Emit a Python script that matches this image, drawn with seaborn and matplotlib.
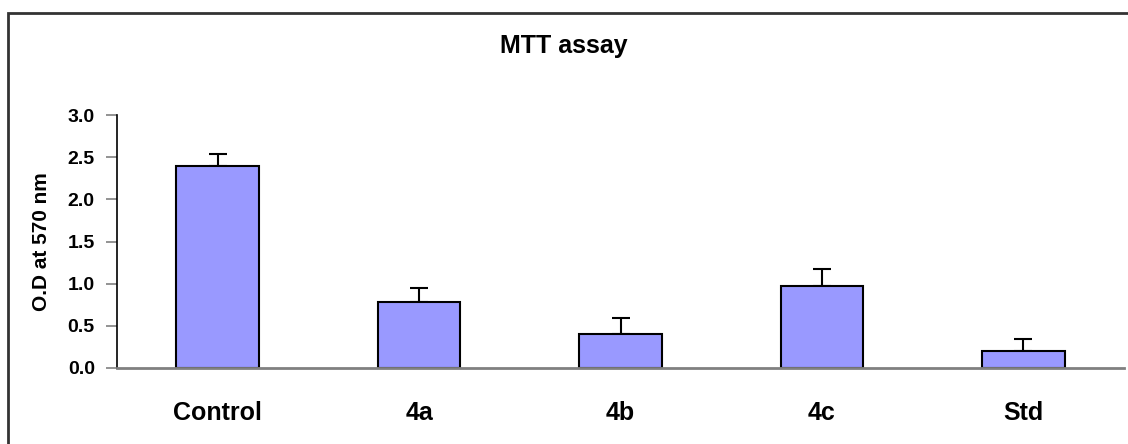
import numpy as np
import pandas as pd
import seaborn as sns
import matplotlib.pyplot as plt
from matplotlib.patches import Rectangle

groups = ["Control", "4a", "4b", "4c", "Std"]
od_mean = [2.40, 0.78, 0.40, 0.97, 0.20]
od_err = [0.14, 0.17, 0.19, 0.20, 0.14]

df = pd.DataFrame({"group": groups, "od": od_mean})

sns.set_style("white")
plt.rcParams['font.family'] = ['Liberation Sans', 'DejaVu Sans']
plt.rcParams['text.color'] = 'black'
plt.rcParams['axes.labelcolor'] = 'black'

fig = plt.figure(figsize=(11.28, 4.44), dpi=100)
ax = fig.add_axes([117 / 1128, 1 - 368 / 444, (1124 - 117) / 1128, (368 - 115) / 444])

sns.barplot(data=df, x="group", y="od", order=groups, color="#9999FF",
            edgecolor="black", linewidth=1.5, width=0.41, saturation=1,
            errorbar=None, ax=ax, zorder=2)
ax.errorbar(np.arange(len(groups)), od_mean, yerr=[np.zeros(len(groups)), od_err],
            fmt="none", ecolor="black", elinewidth=1.5, capsize=6.5, capthick=1.5, zorder=1)

ax.set_xlim(-0.5, 4.5)
ax.set_ylim(0, 3.0)
ax.set_yticks(np.arange(0, 3.01, 0.5))
ax.set_yticklabels([f"{v:.1f}" for v in np.arange(0, 3.01, 0.5)], fontsize=14, fontweight="bold")
ax.set_xticks(range(len(groups)))
ax.set_xticklabels(groups, fontsize=18, fontweight="bold")
ax.set_xticks(np.arange(-0.5, 4.6, 1.0), minor=True)
ax.tick_params(axis="x", which="major", length=0, pad=24, labelcolor="black")
ax.tick_params(axis="x", which="minor", length=8, width=1.2, color="#808080", direction="out")
ax.tick_params(axis="y", length=8, width=1.2, color="#808080", direction="out", pad=8, left=True,
               labelcolor="black")

for s in ["top", "right"]:
    ax.spines[s].set_visible(False)
ax.spines["left"].set_color("black")
ax.spines["left"].set_linewidth(1.2)
ax.spines["bottom"].set_color("#808080")
ax.spines["bottom"].set_linewidth(2)

ax.set_xlabel("")
ax.set_ylabel("O.D at 570 nm", fontsize=15, fontweight="bold", labelpad=12, color="black")
fig.text(0.5, 1 - 46 / 444, "MTT assay", ha="center", va="center", fontsize=18, fontweight="bold",
         color="black")

fig.patches.append(Rectangle((8 / 1128, -0.1), 1.2, 1 - 13 / 444 + 0.1, transform=fig.transFigure,
                             fill=False, edgecolor="#333333", linewidth=2))

fig.savefig("out.png", dpi=100)
